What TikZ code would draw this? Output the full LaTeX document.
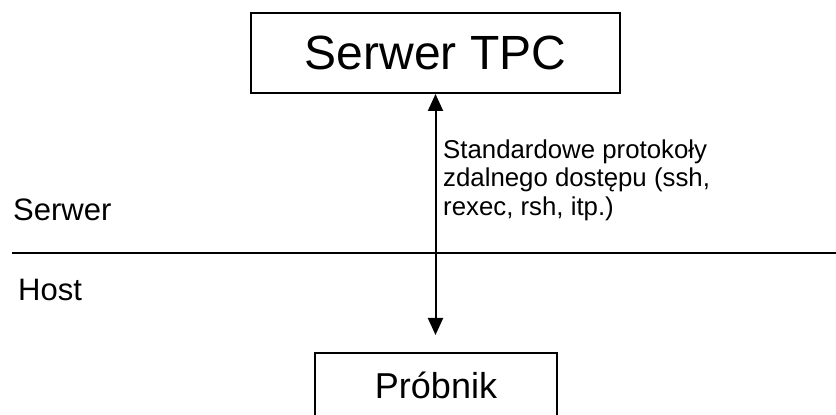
\documentclass[tikz,border=0pt]{standalone}
\usepackage{fontspec}
\setmainfont{Liberation Sans}
\usetikzlibrary{arrows.meta}

\tikzset{
  box/.style={draw=black, line width=2pt, fill=white, inner sep=0pt},
  link/.style={line width=2pt, {Triangle[length=17pt,width=15pt]}-{Triangle[length=17pt,width=15pt]}},
  divider/.style={line width=2pt},
  side/.style={anchor=base west, inner sep=0pt, font=\fontsize{31}{36}\selectfont},
  note/.style={anchor=north west, inner sep=0pt, align=left, font=\fontsize{25.8}{28.5}\selectfont}
}

\begin{document}
\begin{tikzpicture}[x=1pt, y=1pt]
  \useasboundingbox (0,0) rectangle (836,415);

  % server and probe boxes
  \node[box, minimum width=369pt, minimum height=80pt, font=\fontsize{48}{56}\selectfont]
    (tpc) at (435.5,362) {Serwer TPC};
  \node[box, minimum width=242pt, minimum height=64pt, font=\fontsize{36}{42}\selectfont]
    (probe) at (436,30) {Próbnik};

  % boundary between the server side and the host side
  \coordinate (divL) at (12,162);
  \coordinate (divR) at (836,162);
  \draw[divider] (divL) -- (divR);

  \node[side] (srv) at (13,194) {Serwer};
  \node[side] (host) at (18,114) {Host};

  % remote access link
  \coordinate (linkEnd) at (tpc.south |- 0,80);
  \draw[link] (tpc.south) -- (linkEnd);

  \node[note] (proto) at (443,275.5)
    {Standardowe protokoły\\zdalnego dostępu (ssh,\\rexec, rsh, itp.)};
\end{tikzpicture}
\end{document}
